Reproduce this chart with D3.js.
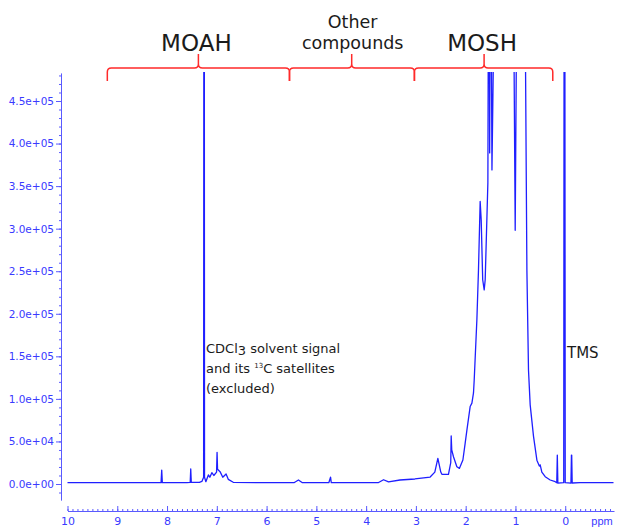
<!DOCTYPE html>
<html>
<head>
<meta charset="utf-8">
<script src="https://cdn.jsdelivr.net/npm/d3@7"></script>
<style>
  body { margin: 0; background: #fff; }
  svg { display: block; font-family: "DejaVu Sans", Verdana, sans-serif; }
</style>
</head>
<body>
<div class="canvas"></div>
<script>
// spectrum: chemical shift (ppm) and intensity
const ppm = [
  10.0, 9.0, 8.2, 8.12, 8.107, 8.095, 7.6, 7.535, 7.524, 7.513,
  7.35, 7.30, 7.265, 7.256, 7.247, 7.22, 7.17, 7.14, 7.10, 7.06,
  7.005, 6.995, 6.985, 6.935, 6.88, 6.814, 6.77, 6.67, 6.0, 5.45,
  5.36, 5.28, 4.75, 4.715, 4.70, 3.75, 3.65, 3.55, 3.32, 3.02,
  2.714, 2.62, 2.559, 2.50, 2.478, 2.346, 2.30, 2.291, 2.28, 2.245,
  2.177, 2.125, 2.056, 2.01, 1.976, 1.91, 1.875, 1.843, 1.829, 1.775,
  1.743, 1.709, 1.688, 1.658, 1.628, 1.608, 1.554, 1.542, 1.528, 1.518,
  1.506, 1.49, 1.472, 1.421, 1.04, 1.005, 0.971, 0.81, 0.770, 0.738,
  0.704, 0.637, 0.569, 0.52, 0.503, 0.47, 0.402, 0.302, 0.201, 0.17,
  0.159, 0.148, 0.03, 0.015, 0.0, -0.115, -0.125, -0.13, -0.14, -0.3,
  -0.97
];
const intensity = [
  1500, 1500, 1500, 1600, 16400, 1600, 1700, 1800, 17600, 1800,
  2000, 3000, 8000, 1200000, 8000, 2700, 10600, 8000, 13300, 10000,
  14000, 37200, 17300, 14500, 7900, 11700, 5500, 2000, 1500, 1500,
  4700, 1500, 1500, 8000, 1500, 1700, 5000, 2500, 4700, 5900,
  8200, 14000, 30200, 14000, 11400, 11400, 25000, 56400, 40000, 32000,
  20300, 18400, 28200, 48000, 63000, 91000, 95000, 107000, 122000, 193000,
  251000, 332000, 310000, 240000, 228000, 240000, 354000, 600000, 600000, 389000,
  600000, 600000, 369000, 600000, 600000, 298000, 600000, 600000, 251000, 134000,
  93000, 56000, 28000, 21000, 22500, 14000, 8600, 4700, 2700, 1500,
  34000, 1000, 1500, 1200000, 1500, 1000, 34000, 34000, 1200, 1500,
  1500
];

// axis ticks
const yMajor = [0, 5e4, 1e5, 1.5e5, 2e5, 2.5e5, 3e5, 3.5e5, 4e5, 4.5e5];
const yMinor = d3.range(-1e4, 4.85e5, 1e4);
const xMajor = [10, 9, 8, 7, 6, 5, 4, 3, 2, 1, 0];
const xMinor = d3.range(-9, 101).map(d => d / 10);

// region brackets (ppm)
const regionLabels = [['MOAH'], ['Other', 'compounds'], ['MOSH']];
const regionFrom = [9.2, 5.54, 3.03];
const regionTo = [5.54, 3.03, 0.25];
const regionMid = [7.37, 4.29, 1.63];

const width = 617, height = 529;
const axisColor = '#5a5aff';
const tickText = '#3a3aff';

const svg = d3.select('.canvas')
  .append('svg')
  .attr('width', width)
  .attr('height', height);

// scales
const x = d3.scaleLinear().domain([10, -0.98]).range([67.5, 614]);
const y = d3.scaleLinear().domain([0, 4.5e5]).range([484, 101]);
const yAxisScale = y.copy().domain([-1.9e4, 4.83e5]).range([y(-1.9e4), y(4.83e5)]);

const expFmt = v => {
  const [m, e] = v.toExponential(1).split('e');
  const n = +e;
  return m + 'e' + (n < 0 ? '-' : '+') + String(Math.abs(n)).padStart(2, '0');
};

// y axis
const yAxisG = svg.append('g').attr('transform', 'translate(61,0)');
yAxisG.call(d3.axisLeft(yAxisScale).tickValues(yMinor).tickSize(2).tickSizeOuter(0).tickFormat(''));
yAxisG.append('g').call(d3.axisLeft(y).tickValues(yMajor).tickSize(5).tickPadding(2).tickFormat(expFmt))
  .call(g => g.select('.domain').remove());
yAxisG.selectAll('path, line').attr('stroke', axisColor);
yAxisG.selectAll('text')
  .attr('fill', tickText)
  .attr('font-size', 10.5)
  .attr('font-family', '"DejaVu Sans", Verdana, sans-serif');

// x axis
const xAxisG = svg.append('g').attr('transform', 'translate(0,511)');
xAxisG.call(d3.axisBottom(x).tickValues(xMinor).tickSizeInner(-2).tickSizeOuter(0).tickFormat(''));
xAxisG.append('g').call(d3.axisBottom(x).tickValues(xMajor).tickSizeInner(-5).tickSizeOuter(0).tickPadding(6).tickFormat(d3.format('d')))
  .call(g => g.select('.domain').remove());
xAxisG.selectAll('path, line').attr('stroke', axisColor);
xAxisG.selectAll('text')
  .attr('fill', tickText)
  .attr('font-size', 11)
  .attr('font-family', '"DejaVu Sans", Verdana, sans-serif');
xAxisG.append('text')
  .attr('x', 602).attr('y', 6).attr('dy', '0.71em')
  .attr('text-anchor', 'middle')
  .attr('fill', tickText)
  .attr('font-size', 11)
  .text('ppm');

// spectrum
svg.append('clipPath').attr('id', 'plot-clip')
  .append('rect').attr('x', 62).attr('y', 72).attr('width', 555).attr('height', 430);

const points = ppm.map((p, i) => [p, intensity[i]]);
svg.append('path')
  .datum(points)
  .attr('clip-path', 'url(#plot-clip)')
  .attr('fill', 'none')
  .attr('stroke', '#1f1fff')
  .attr('stroke-width', 1.3)
  .attr('stroke-linejoin', 'round')
  .attr('d', d3.line().x(d => x(d[0])).y(d => y(d[1])));

// brackets
const bTop = 68, bEnd = 81, bPeak = 54, r = 4;
const brackets = svg.append('g');
regionLabels.forEach((lines, i) => {
  const x1 = x(regionFrom[i]), x2 = x(regionTo[i]), xc = x(regionMid[i]);
  const path = d3.path();
  path.moveTo(x1, bEnd);
  path.lineTo(x1, bTop + r);
  path.quadraticCurveTo(x1, bTop, x1 + r, bTop);
  path.lineTo(xc - r, bTop);
  path.quadraticCurveTo(xc, bTop, xc, bTop - r);
  path.lineTo(xc, bPeak);
  path.moveTo(xc, bTop - r);
  path.quadraticCurveTo(xc, bTop, xc + r, bTop);
  path.lineTo(x2 - r, bTop);
  path.quadraticCurveTo(x2, bTop, x2, bTop + r);
  path.lineTo(x2, bEnd);
  brackets.append('path')
    .attr('d', path.toString())
    .attr('fill', 'none')
    .attr('stroke', '#ff2a2a')
    .attr('stroke-width', 1.5);

  const big = lines.length === 1;
  const t = brackets.append('text')
    .attr('text-anchor', 'middle')
    .attr('fill', '#1b1b1b')
    .attr('font-size', big ? 23 : 17.5);
  if (big) {
    t.attr('x', xc - 2).attr('y', 51).text(lines[0]);
  } else {
    t.append('tspan').attr('x', xc + 1).attr('y', 28).text(lines[0]);
    t.append('tspan').attr('x', xc + 1).attr('y', 49).text(lines[1]);
  }
});

// annotations
const note = svg.append('text')
  .attr('fill', '#1b1b1b')
  .attr('font-size', 13);
const l1 = note.append('tspan').attr('x', 206).attr('y', 353);
l1.append('tspan').text('CDCl');
l1.append('tspan').attr('dy', 2).text('3');
l1.append('tspan').attr('dy', -2).text(' solvent signal');
const l2 = note.append('tspan').attr('x', 206).attr('y', 373);
l2.append('tspan').text('and its ');
l2.append('tspan').attr('font-size', 7).attr('dy', -5).text('13');
l2.append('tspan').attr('dy', 5).text('C satellites');
note.append('tspan').attr('x', 206).attr('y', 393).text('(excluded)');

svg.append('text')
  .attr('x', 567).attr('y', 358)
  .attr('fill', '#1b1b1b')
  .attr('font-size', 15)
  .text('TMS');
</script>
</body>
</html>
